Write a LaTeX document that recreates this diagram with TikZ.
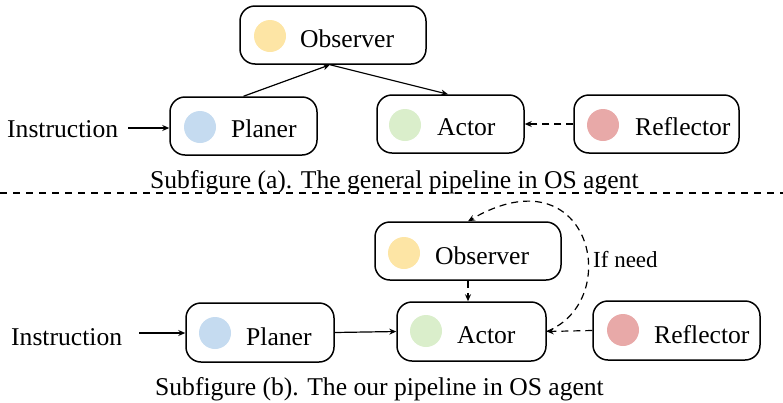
\documentclass[tikz,border=0pt]{standalone}
\usepackage{fontspec}
\setmainfont{Liberation Serif}
\usetikzlibrary{arrows.meta,calc}
\definecolor{cyel}{RGB}{253,229,165}
\definecolor{cblu}{RGB}{197,219,240}
\definecolor{cgrn}{RGB}{218,238,203}
\definecolor{cred}{RGB}{232,169,168}
\tikzset{
  box/.style={draw=black,line width=1.5pt,rounded corners=15pt,minimum height=58pt,inner sep=0pt},
  dot/.style={circle,minimum size=32pt,inner sep=0pt},
  lbl/.style={anchor=base west,inner sep=0pt,font=\fontsize{25.6}{28}\selectfont},
  conn/.style={line width=1.2pt,-{Stealth[length=7pt,width=6pt]}},
  dconn/.style={conn,dash pattern=on 7pt off 5pt},
}
\begin{document}
\begin{tikzpicture}[x=1pt,y=-1pt]
\useasboundingbox (0,0) rectangle (783,402);
% ---------- top ----------
\node[box,minimum width=186pt] (obsA) at (333,35) {};
\node[box,minimum width=147pt] (plA) at (243.5,126) {};
\node[box,minimum width=147pt] (acA) at (450.5,124) {};
\node[box,minimum width=165pt] (rfA) at (656.5,124) {};
\node[dot,fill=cyel] (obsAc) at (270,36) {};
\node[dot,fill=cblu] (plAc) at (200,127) {};
\node[dot,fill=cgrn] (acAc) at (405,125) {};
\node[dot,fill=cred] (rfAc) at (603,125) {};
\node[lbl] (obsAt) at (300,47) {Observer};
\node[lbl] (plAt) at (231,137) {Planer};
\node[lbl] (acAt) at (437,135) {Actor};
\node[lbl] (rfAt) at (635,135) {Reflector};
\node[lbl] (insA) at (7,137) {Instruction};
\node[lbl] (capA) at (150,188) {Subfigure (a). The general pipeline in OS agent};
\coordinate (insAe) at (128,128);
\draw[conn] (insAe) -- (insAe -| plA.west);
\draw[conn] (plA.north) -- ($(obsA.south)+(-3,0)$);
\draw[conn] ($(obsA.south)+(-3,0)$) -- ($(acA.north)+(-2.5,0)$);
\draw[dconn] (rfA.west) -- (acA.east);
% separator
\coordinate (sepL) at (0,193);
\coordinate (sepR) at (783,193);
\draw[line width=1.1pt,dash pattern=on 7pt off 6pt] (sepL) -- (sepR);
% ---------- bottom ----------
\node[box,minimum width=186pt] (obsB) at (468,251) {};
\node[box,minimum width=148pt,minimum height=59pt] (plB) at (260,332.5) {};
\node[box,minimum width=149pt,minimum height=59pt] (acB) at (471.5,331.5) {};
\node[box,minimum width=167pt,minimum height=59pt] (rfB) at (676.5,330.5) {};
\node[dot,fill=cyel] (obsBc) at (404,253) {};
\node[dot,fill=cblu] (plBc) at (215,333) {};
\node[dot,fill=cgrn] (acBc) at (426,331) {};
\node[dot,fill=cred] (rfBc) at (623,330) {};
\node[lbl] (obsBt) at (435,264) {Observer};
\node[lbl] (plBt) at (246,345) {Planer};
\node[lbl] (acBt) at (457,343) {Actor};
\node[lbl] (rfBt) at (654,343) {Reflector};
\node[lbl] (insB) at (11,345) {Instruction};
\node[lbl,font=\fontsize{23}{26}\selectfont] (ifB) at (593,267) {If need};
\node[lbl] (capB) at (155,395) {Subfigure (b). The our pipeline in OS agent};
\coordinate (insBe) at (139,333);
\draw[conn] (insBe) -- (insBe -| plB.west);
\draw[conn] (plB.east) -- (acB.west);
\draw[dconn] (obsB.south) -- (obsB.south |- acB.north);
\draw[dconn] (rfB.west) -- (acB.east);
\draw[dconn] (acB.east) .. controls (625,300) and (590,150) .. (obsB.north);
\end{tikzpicture}
\end{document}
